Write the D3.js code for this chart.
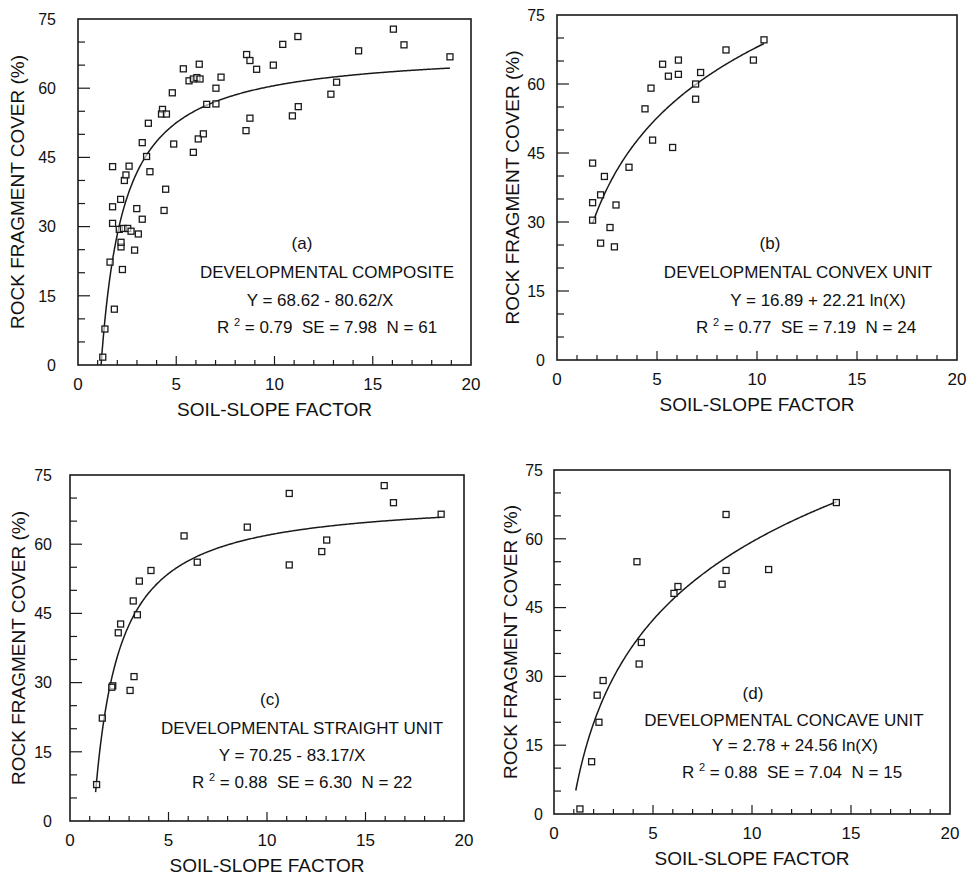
<!DOCTYPE html>
<html>
<head>
<meta charset="utf-8">
<script src="https://cdnjs.cloudflare.com/ajax/libs/d3/7.8.5/d3.min.js"></script>
<style>
  body { margin: 0; background: #fff; }
  svg text { font-family: "Liberation Sans", Arial, sans-serif; fill: #111; white-space: pre; }
</style>
</head>
<body>
<svg id="chart" width="975" height="875"></svg>
<script>
// tick values shared by the four panels
var xTicks = [0, 5, 10, 15, 20];
var yTicks = [0, 15, 30, 45, 60, 75];

// (a) developmental composite, soil-slope factor vs rock fragment cover
var compositePts = [
  [1.26,1.7],[1.37,7.8],[1.85,12.1],[1.63,22.3],[2.26,20.7],[2.19,25.6],[2.19,26.6],[2.88,24.9],
  [1.76,30.7],[2.10,29.4],[2.31,29.6],[2.53,29.6],[2.70,29.0],[3.07,28.4],[3.27,31.6],[2.99,33.9],
  [1.76,34.3],[2.17,35.9],[2.36,40.0],[2.44,41.2],[2.60,43.1],[1.76,43.0],[3.49,45.2],[3.27,48.2],
  [3.66,41.9],[3.58,52.4],[4.46,38.1],[4.38,33.5],[4.87,47.9],[4.30,55.4],[4.25,54.4],[4.50,54.4],
  [4.80,59.0],[5.36,64.2],[6.17,65.2],[5.65,61.6],[5.87,62.0],[6.05,62.3],[6.21,62.0],[7.28,62.4],
  [7.02,60.0],[6.55,56.5],[7.02,56.6],[5.87,46.1],[6.12,49.0],[6.38,50.1],[8.55,50.8],[8.75,53.5],
  [8.58,67.3],[8.75,66.0],[9.09,64.1],[9.94,65.0],[10.42,69.5],[11.19,71.2],[14.28,68.1],[16.05,72.8],
  [16.59,69.4],[18.93,66.8],[13.16,61.3],[12.87,58.7],[11.21,56.0],[10.91,54.0]
];
// (b) convex unit
var convexPts = [
  [1.78,42.8],[2.37,39.9],[3.60,41.9],[1.78,34.2],[2.18,35.9],[2.95,33.7],[1.78,30.4],[2.65,28.8],
  [2.18,25.4],[2.87,24.6],[4.78,47.8],[5.78,46.2],[4.40,54.6],[4.70,59.1],[5.28,64.3],[5.57,61.7],
  [6.07,65.2],[6.07,62.1],[6.93,60.0],[7.18,62.5],[6.93,56.7],[8.45,67.4],[9.82,65.2],[10.35,69.6]
];
// (c) straight unit
var straightPts = [
  [1.35,7.9],[1.64,22.3],[2.17,29.3],[2.12,29.0],[3.05,28.3],[3.25,31.3],[2.45,40.8],[2.57,42.7],
  [3.42,44.7],[3.21,47.7],[3.52,52.0],[4.11,54.3],[5.79,61.8],[6.46,56.1],[9.00,63.7],[11.13,71.0],
  [11.13,55.5],[15.95,72.7],[16.42,69.0],[18.84,66.5],[13.03,60.9],[12.78,58.4]
];
// (d) concave unit
var concavePts = [
  [1.31,1.1],[1.90,11.4],[2.27,20.0],[2.18,25.9],[2.48,29.1],[4.30,32.7],[4.41,37.4],[4.19,55.0],
  [6.06,48.1],[6.26,49.6],[8.49,50.1],[8.69,53.1],[8.69,65.3],[10.84,53.3],[14.26,67.9]
];

// regression coefficients and x range of each fitted curve
var compositeFit = {form: "inv", a: 68.62, b: -80.62, from: 1.175, to: 18.93};
var convexFit    = {form: "ln",  a: 16.89, b: 22.21,  from: 1.78,  to: 10.35};
var straightFit  = {form: "inv", a: 70.25, b: -83.17, from: 1.30,  to: 18.84};
var concaveFit   = {form: "ln",  a: 2.78,  b: 24.56,  from: 1.10,  to: 14.26};

var compositeText = ["(a)", "DEVELOPMENTAL COMPOSITE", "Y = 68.62 - 80.62/X", ["0.79", "7.98", "61"]];
var convexText    = ["(b)", "DEVELOPMENTAL CONVEX UNIT", "Y = 16.89 + 22.21 ln(X)", ["0.77", "7.19", "24"]];
var straightText  = ["(c)", "DEVELOPMENTAL STRAIGHT UNIT", "Y = 70.25 - 83.17/X", ["0.88", "6.30", "22"]];
var concaveText   = ["(d)", "DEVELOPMENTAL CONCAVE UNIT", "Y = 2.78 + 24.56 ln(X)", ["0.88", "7.04", "15"]];

var panels = [
  {pts: compositePts, fit: compositeFit, txt: compositeText, l: 78,  r: 471, t: 19,  b: 365,
   tx: [302, 327, 320, 327], ty: [243, 272, 300, 327], ylabX: 17, gap: 22},
  {pts: convexPts, fit: convexFit, txt: convexText, l: 557, r: 957, t: 15, b: 360,
   tx: [770, 798, 818, 806], ty: [243, 272, 300, 327], ylabX: 512, gap: 12},
  {pts: straightPts, fit: straightFit, txt: straightText, l: 70, r: 464, t: 475, b: 821,
   tx: [270, 302, 292, 302], ty: [699, 728, 755, 782], ylabX: 18, gap: 18},
  {pts: concavePts, fit: concaveFit, txt: concaveText, l: 554, r: 950, t: 470, b: 814,
   tx: [753, 784, 795, 792], ty: [693, 720, 745, 772], ylabX: 510, gap: 11}
];

var svg = d3.select("#chart");
var ink = "#1a1a1a";

panels.forEach(function(p) {
  var x = d3.scaleLinear().domain([0, 20]).range([p.l, p.r]);
  var y = d3.scaleLinear().domain([0, 75]).range([p.b, p.t]);
  var g = svg.append("g");

  // frame
  g.append("rect")
    .attr("x", p.l).attr("y", p.t)
    .attr("width", p.r - p.l).attr("height", p.b - p.t)
    .attr("fill", "none").attr("stroke", ink).attr("stroke-width", 1.6);

  // inward ticks on the left side: long every 15, short every 5
  g.selectAll(".yt").data(d3.range(5, 75, 5)).enter().append("line")
    .attr("x1", p.l).attr("x2", function(d) { return p.l + (d % 15 == 0 ? 12 : 7); })
    .attr("y1", function(d) { return y(d); }).attr("y2", function(d) { return y(d); })
    .attr("stroke", ink).attr("stroke-width", 1.2);

  // inward ticks on the bottom: long every 5, short every 1
  g.selectAll(".xt").data(d3.range(1, 20, 1)).enter().append("line")
    .attr("y1", p.b).attr("y2", function(d) { return p.b - (d % 5 == 0 ? 9 : 5); })
    .attr("x1", function(d) { return x(d); }).attr("x2", function(d) { return x(d); })
    .attr("stroke", ink).attr("stroke-width", 1.2);

  // tick labels
  g.selectAll(".yl").data(yTicks).enter().append("text")
    .attr("x", p.l - p.gap).attr("y", function(d) { return y(d); })
    .attr("dy", "0.36em").attr("text-anchor", "end")
    .attr("font-size", 16).text(function(d) { return d; });

  g.selectAll(".xl").data(xTicks).enter().append("text")
    .attr("x", function(d) { return x(d); }).attr("y", p.b + 19)
    .attr("dy", "0.36em").attr("text-anchor", "middle")
    .attr("font-size", 17).text(function(d) { return d; });

  // axis titles
  g.append("text")
    .attr("x", (p.l + p.r) / 2).attr("y", p.b + 44)
    .attr("dy", "0.36em").attr("text-anchor", "middle")
    .attr("font-size", 19).text("SOIL-SLOPE FACTOR");

  g.append("text")
    .attr("transform", "translate(" + p.ylabX + "," + (p.t + p.b) / 2 + ") rotate(-90)")
    .attr("dy", "0.36em").attr("text-anchor", "middle")
    .attr("font-size", 19).text("ROCK FRAGMENT COVER (%)");

  // fitted curve
  var f = p.fit;
  var xs = d3.range(f.from, f.to, 0.05).concat([f.to]);
  var curve = xs.map(function(v) {
    return [v, f.form == "inv" ? f.a + f.b / v : f.a + f.b * Math.log(v)];
  });
  g.append("path")
    .datum(curve)
    .attr("fill", "none").attr("stroke", ink).attr("stroke-width", 1.5)
    .attr("d", d3.line().x(function(d) { return x(d[0]); }).y(function(d) { return y(d[1]); }));

  // observed points as open squares
  g.selectAll(".pt").data(p.pts).enter().append("rect")
    .attr("x", function(d) { return x(d[0]) - 3; })
    .attr("y", function(d) { return y(d[1]) - 3; })
    .attr("width", 6).attr("height", 6)
    .attr("fill", "#fff").attr("fill-opacity", 0.6)
    .attr("stroke", ink).attr("stroke-width", 1.3);

  // annotation block
  var t = p.txt;
  for (var i = 0; i < 3; i++) {
    g.append("text")
      .attr("x", p.tx[i]).attr("y", p.ty[i])
      .attr("dy", "0.36em").attr("text-anchor", "middle")
      .attr("font-size", 17).text(t[i]);
  }
  var st = g.append("text")
    .attr("x", p.tx[3]).attr("y", p.ty[3])
    .attr("dy", "0.36em").attr("text-anchor", "middle")
    .attr("font-size", 17);
  st.append("tspan").text("R ");
  st.append("tspan").attr("dy", -7).attr("font-size", 11).text("2");
  st.append("tspan").attr("dy", 7).text(" = " + t[3][0] + "  SE = " + t[3][1] + "  N = " + t[3][2]);
});
</script>
</body>
</html>
